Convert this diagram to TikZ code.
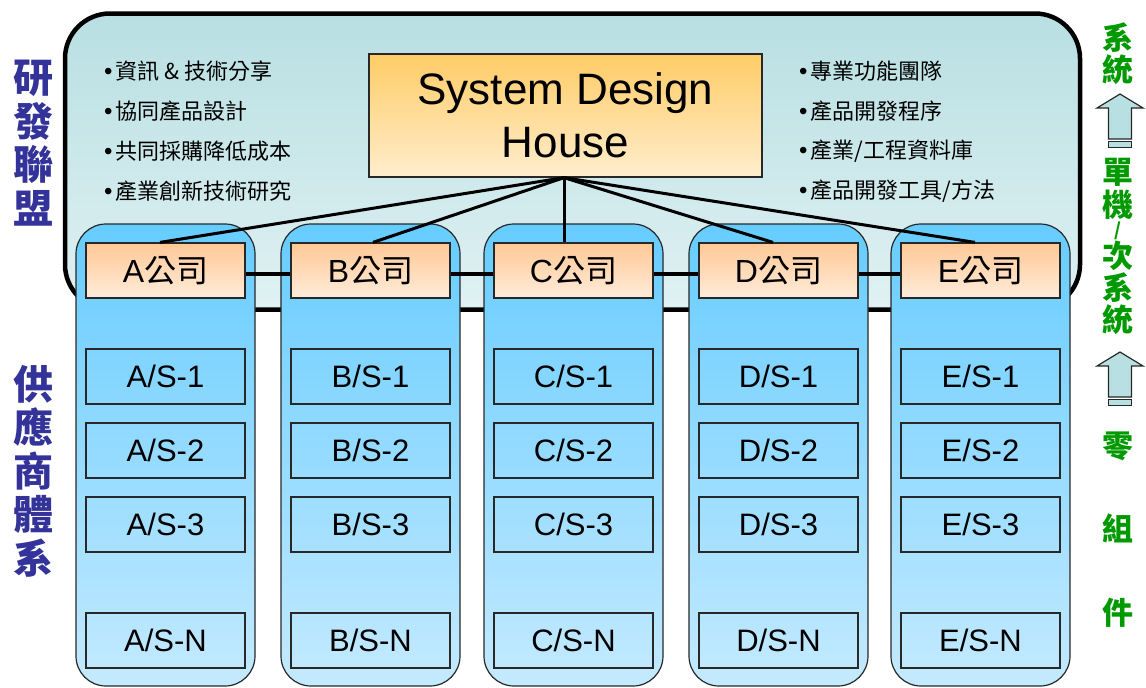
\documentclass[tikz,border=0pt]{standalone}
\usepackage{fontspec}
\setmainfont{Liberation Sans}
\newfontfamily\cjk{Noto Sans CJK TC}
\usetikzlibrary{calc}
\definecolor{housetop}{RGB}{184,223,226}
\definecolor{housebot}{RGB}{224,241,243}
\definecolor{sdhtop}{RGB}{255,204,102}
\definecolor{sdhbot}{RGB}{255,237,204}
\definecolor{coltop}{RGB}{102,204,255}
\definecolor{colbot}{RGB}{196,234,255}
\definecolor{hdtop}{RGB}{255,200,150}
\definecolor{hdbot}{RGB}{255,236,218}
\definecolor{edge}{RGB}{40,40,40}
\definecolor{labelblue}{RGB}{51,51,153}
\definecolor{labelgreen}{RGB}{0,153,0}
\definecolor{arrowfill}{RGB}{184,223,226}
\newcommand{\bul}{{\rmfamily\fontsize{24}{26}\selectfont •}\hspace{3pt}}
\tikzset{
  housebox/.style={draw=black, line width=4.5pt, rounded corners=45pt,
    top color=housetop, bottom color=housebot, minimum width=1015pt, minimum height=296pt, inner sep=0pt},
  sdhbox/.style={draw=edge, line width=1.3pt, top color=sdhtop, bottom color=sdhbot,
    minimum width=393pt, minimum height=123pt, inner sep=0pt, align=center,
    font=\fontsize{44}{53}\selectfont},
  colbox/.style={draw=edge, line width=1.2pt, rounded corners=30pt,
    top color=coltop, bottom color=colbot, minimum width=179pt, minimum height=462pt, inner sep=0pt},
  hdbox/.style={draw=edge, line width=1.2pt, top color=hdtop, bottom color=hdbot,
    minimum width=159pt, minimum height=55pt, inner sep=0pt, font=\fontsize{32}{36}\selectfont},
  subbox/.style={draw=edge, line width=1.2pt,
    minimum width=159pt, minimum height=55pt, inner sep=0pt, font=\fontsize{31}{36}\selectfont},
  bullettext/.style={anchor=west, inner sep=0pt, font=\cjk\fontsize{22}{26}\selectfont},
  sidelabel/.style={inner sep=0pt, align=center, text=labelblue,
    font=\cjk\bfseries\fontsize{40}{43.5}\selectfont},
  greenchar/.style={inner sep=0pt, text=labelgreen, font=\cjk\bfseries\fontsize{31}{34}\selectfont},
  conn/.style={draw=black, line width=3pt},
  hconn/.style={draw=black, line width=3.5pt},
  uparr/.pic={
    \draw[draw=edge, line width=1.2pt, fill=arrowfill, line join=miter]
      (0,0) -- (23,14) -- (11.5,14) -- (11.5,45) -- (-11.5,45) -- (-11.5,14) -- (-23,14) -- cycle;
    \draw[draw=edge, line width=1.2pt, fill=arrowfill] (-11.5,47.5) rectangle (11.5,53.5);
  }
}
\begin{document}
\begin{tikzpicture}[x=1pt,y=-1pt]
\useasboundingbox (0,0) rectangle (1146,688);

% research alliance house
\node[housebox] (house) at (572.5,161.5) {};
\node[sdhbox] (sdh) at (565.5,115.5) {System Design\\House};

% bullet lists
\node[bullettext] (l1) at (104,71) {\bul{}資訊 \& 技術分享};
\node[bullettext] (l2) at (104,111) {\bul{}協同產品設計};
\node[bullettext] (l3) at (104,151) {\bul{}共同採購降低成本};
\node[bullettext] (l4) at (104,191) {\bul{}產業創新技術研究};
\node[bullettext] (r1) at (799,71) {\bul{}專業功能團隊};
\node[bullettext] (r2) at (799,111) {\bul{}產品開發程序};
\node[bullettext] (r3) at (799,151) {\bul{}產業/工程資料庫};
\node[bullettext] (r4) at (799,191) {\bul{}產品開發工具/方法};

% side labels
\node[sidelabel] (rd) at (33,143) {研\\發\\聯\\盟};
\node[sidelabel] (sup) at (33,471) {供\\應\\商\\體\\系};

% supplier columns
\foreach \co/\cx in {A/165.5,B/370.5,C/573.5,D/778.5,E/980.5}{
  \node[colbox] (col\co) at (\cx,455) {};
  \node[hdbox] (h\co) at (\cx,270.5) {\co{\cjk 公司}};
  \node[subbox] (s\co1) at (\cx,376.5) {\co/S-1};
  \node[subbox] (s\co2) at (\cx,450.5) {\co/S-2};
  \node[subbox] (s\co3) at (\cx,524.5) {\co/S-3};
  \node[subbox] (s\co N) at (\cx,640.5) {\co/S-N};
}

% connectors between companies
\draw[hconn] ([yshift=-3.5pt]hA.east) -- ([yshift=-3.5pt]hB.west);
\draw[hconn] ([yshift=-3.5pt]hB.east) -- ([yshift=-3.5pt]hC.west);
\draw[hconn] ([yshift=-3.5pt]hC.east) -- ([yshift=-3.5pt]hD.west);
\draw[hconn] ([yshift=-3.5pt]hD.east) -- ([yshift=-3.5pt]hE.west);

% connectors from the design house
\coordinate (hub) at ([xshift=-1.5pt]sdh.south);
\draw[conn] (hub) -- ([xshift=-5.5pt]hA.north);
\draw[conn] (hub) -- ([xshift=2.5pt]hB.north);
\draw[conn] (hub) -- ([xshift=-9.5pt]hC.north);
\draw[conn] (hub) -- ([xshift=-5.5pt]hD.north);
\draw[conn] (hub) -- ([xshift=-5.5pt]hE.north);

% right-hand hierarchy
\node[greenchar] (g1) at (1118,37.5) {系};
\node[greenchar] (g2) at (1118,70) {統};
\pic at (1120,94) {uparr};
\node[greenchar] (g3) at (1118,172) {單};
\node[greenchar] (g4) at (1118,205) {機};
\node[greenchar, font=\cjk\bfseries\fontsize{18}{20}\selectfont] (g5) at (1118,231) {/};
\node[greenchar] (g6) at (1118,256) {次};
\node[greenchar] (g7) at (1118,288) {系};
\node[greenchar] (g8) at (1118,320) {統};
\pic at (1120,352) {uparr};
\node[greenchar] (g9) at (1118,446) {零};
\node[greenchar] (g10) at (1118,528) {組};
\node[greenchar] (g11) at (1118,613) {件};
\end{tikzpicture}
\end{document}
